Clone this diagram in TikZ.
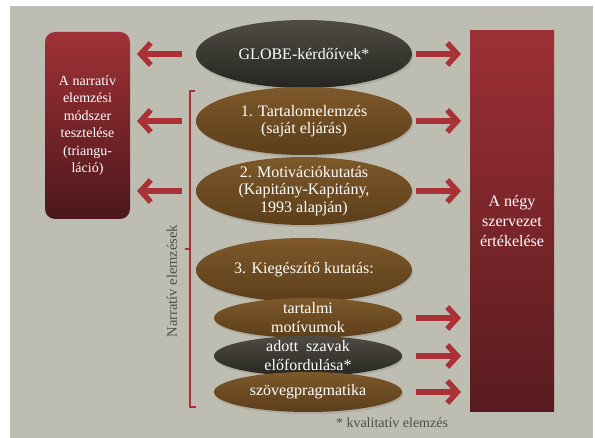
\documentclass[tikz,border=0pt]{standalone}
\usepackage{fontspec}
\setmainfont{Liberation Serif}
\usetikzlibrary{shapes.geometric,arrows.meta,shadows}
\definecolor{hatter}{RGB}{190,189,177}
\definecolor{bordo}{RGB}{170,50,55}
\definecolor{barnaf}{RGB}{125,88,42}
\definecolor{barnaa}{RGB}{92,62,26}
\definecolor{szurkef}{RGB}{78,76,67}
\definecolor{szurkea}{RGB}{38,37,32}
\definecolor{szoveg}{RGB}{78,78,72}
\begin{document}
\begin{tikzpicture}[x=1pt,y=-1pt,
    nagy/.style={ellipse,minimum width=216pt,minimum height=68pt,inner xsep=0pt,inner ysep=-4pt,
      text=white,align=center,font=\fontsize{16}{17.5}\selectfont,
      drop shadow={opacity=0.3,shadow xshift=1pt,shadow yshift=-2pt}},
    kicsi/.style={nagy,minimum width=188pt,minimum height=40pt,inner ysep=-8pt,
      font=\fontsize{16}{19}\selectfont},
    barna/.style={top color=barnaf,bottom color=barnaa},
    sotet/.style={top color=szurkef,bottom color=szurkea},
    nyil/.style={bordo,line width=5.5pt,-{Straight Barb[length=10pt,width=22pt]}}]
  \fill[white] (0,0) rectangle (595,438);
  \fill[hatter] (10,6) rectangle (593,438);
  \useasboundingbox (0,0) rectangle (595,438);

  % bal es jobb doboz
  \node[rounded corners=10pt,minimum width=85pt,minimum height=187pt,
    top color={rgb,255:red,160;green,50;blue,55},bottom color={rgb,255:red,76;green,23;blue,27},
    text=white,align=center,font=\fontsize{14}{17.5}\selectfont] (narr) at (87.5,125.5)
    {A narratív\\elemzési\\módszer\\tesztelése\\(triangu-\\láció)};
  \node[minimum width=84pt,minimum height=381pt,
    top color={rgb,255:red,156;green,48;blue,53},bottom color={rgb,255:red,88;green,27;blue,31},
    text=white,align=center,font=\fontsize{16}{20}\selectfont] (ertek) at (512,221.5)
    {A négy\\szervezet\\értékelése};

  % ellipszisek
  \node[nagy,sotet] (globe) at (304,54) {GLOBE-kérdőívek*};
  \node[nagy,barna] (tart) at (304,121) {1. Tartalomelemzés\\(saját eljárás)};
  \node[nagy,barna] (motiv) at (304,191) {2. Motivációkutatás\\(Kapitány-Kapitány,\\1993 alapján)};
  \node[nagy,barna,minimum height=64pt] (kieg) at (304,270) {3. Kiegészítő kutatás:};
  \node[kicsi,barna] (motivum) at (308,318) {tartalmi\\motívumok};
  \node[kicsi,sotet] (szavak) at (308,356) {adott\ \ szavak\\előfordulása*};
  \node[kicsi,barna] (prag) at (308,392) {szövegpragmatika};

  % nyilak
  \coordinate (bk) at (182,0);
  \coordinate (bv) at (137,0);
  \coordinate (jk) at (416,0);
  \coordinate (jv) at (461,0);
  \foreach \n in {globe,tart,motiv}
    \draw[nyil] (\n -| bk) -- (\n -| bv);
  \foreach \n in {globe,tart,motiv,motivum,szavak,prag}
    \draw[nyil] (\n -| jk) -- (\n -| jv);

  % zarojel
  \draw[bordo,line width=1.8pt] (195,91) -- (190,91) -- (190,407) -- (196,407)
    (190,249) -- (185,249);
  \node[rotate=90,text=szoveg,font=\fontsize{14.5}{17}\selectfont] (narrel) at (172,281) {Narratív elemzések};
  \node[text=szoveg,font=\fontsize{14}{17}\selectfont] (megj) at (392,423) {* kvalitatív elemzés};
\end{tikzpicture}
\end{document}
